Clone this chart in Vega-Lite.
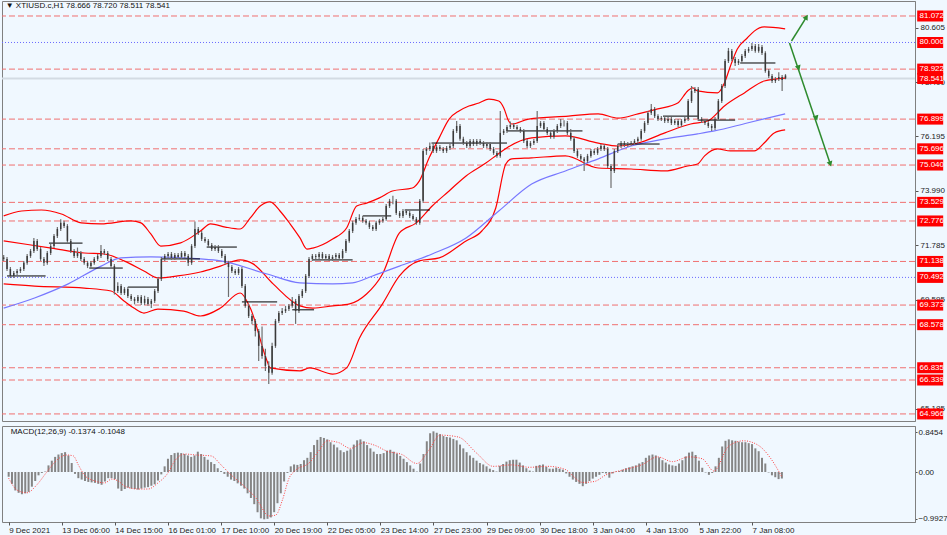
{
  "$schema": "https://vega.github.io/schema/vega-lite/v6.json",
  "background": "#f0f8ff",
  "padding": 0,
  "autosize": {"type": "pad"},
  "spacing": 3,
  "config": {
    "view": {"stroke": "#808080", "fill": "#f0f8ff"},
    "font": "Liberation Sans"
  },
  "datasets": {
    "bars": [
      {"i":0,"o":71.30,"h":71.40,"l":71.16,"c":71.24,"m":-0.10},
      {"i":2,"o":71.24,"h":71.32,"l":70.75,"c":70.83,"m":-0.25},
      {"i":4,"o":70.83,"h":70.91,"l":70.47,"c":70.55,"m":-0.39},
      {"i":6,"o":70.55,"h":70.75,"l":70.47,"c":70.67,"m":-0.44},
      {"i":8,"o":70.67,"h":70.83,"l":70.59,"c":70.75,"m":-0.47},
      {"i":10,"o":70.75,"h":70.91,"l":70.67,"c":70.83,"m":-0.45},
      {"i":12,"o":70.83,"h":71.16,"l":70.75,"c":71.08,"m":-0.42},
      {"i":14,"o":71.08,"h":71.44,"l":71.00,"c":71.36,"m":-0.31},
      {"i":16,"o":71.36,"h":71.64,"l":71.28,"c":71.56,"m":-0.19},
      {"i":18,"o":71.56,"h":72.09,"l":71.48,"c":71.97,"m":-0.07},
      {"i":20,"o":71.97,"h":72.05,"l":71.56,"c":71.64,"m":-0.02},
      {"i":22,"o":71.64,"h":71.72,"l":71.16,"c":71.24,"m":0.01},
      {"i":24,"o":71.24,"h":71.32,"l":70.95,"c":71.08,"m":0.14},
      {"i":26,"o":71.08,"h":71.56,"l":71.00,"c":71.48,"m":0.24},
      {"i":28,"o":71.48,"h":71.84,"l":71.40,"c":71.76,"m":0.32},
      {"i":30,"o":71.76,"h":72.25,"l":71.68,"c":72.17,"m":0.37},
      {"i":32,"o":72.17,"h":72.53,"l":72.09,"c":72.45,"m":0.40},
      {"i":34,"o":72.45,"h":72.85,"l":72.37,"c":72.70,"m":0.42},
      {"i":36,"o":72.70,"h":72.78,"l":72.49,"c":72.57,"m":0.35},
      {"i":38,"o":72.57,"h":72.65,"l":71.89,"c":71.97,"m":0.19},
      {"i":40,"o":71.97,"h":72.05,"l":71.48,"c":71.56,"m":-0.04},
      {"i":42,"o":71.56,"h":71.64,"l":71.28,"c":71.36,"m":-0.13},
      {"i":44,"o":71.36,"h":71.70,"l":71.28,"c":71.48,"m":-0.16},
      {"i":46,"o":71.48,"h":71.56,"l":71.16,"c":71.24,"m":-0.19},
      {"i":48,"o":71.24,"h":71.32,"l":71.00,"c":71.08,"m":-0.21},
      {"i":50,"o":71.08,"h":71.16,"l":70.87,"c":70.95,"m":-0.22},
      {"i":52,"o":70.95,"h":71.16,"l":70.87,"c":71.08,"m":-0.23},
      {"i":54,"o":71.08,"h":71.32,"l":71.00,"c":71.24,"m":-0.25},
      {"i":56,"o":71.24,"h":71.44,"l":71.16,"c":71.36,"m":-0.27},
      {"i":58,"o":71.36,"h":71.80,"l":71.28,"c":71.56,"m":-0.20},
      {"i":60,"o":71.56,"h":71.64,"l":71.40,"c":71.48,"m":-0.13},
      {"i":62,"o":71.48,"h":71.56,"l":71.16,"c":71.24,"m":-0.13},
      {"i":64,"o":71.24,"h":71.32,"l":70.87,"c":70.95,"m":-0.15},
      {"i":66,"o":70.95,"h":71.03,"l":69.80,"c":69.94,"m":-0.35},
      {"i":68,"o":69.94,"h":70.30,"l":69.86,"c":70.14,"m":-0.40},
      {"i":70,"o":70.14,"h":70.22,"l":69.78,"c":69.86,"m":-0.36},
      {"i":72,"o":69.86,"h":70.10,"l":69.78,"c":70.02,"m":-0.33},
      {"i":74,"o":70.02,"h":70.10,"l":69.66,"c":69.74,"m":-0.35},
      {"i":76,"o":69.74,"h":69.82,"l":69.54,"c":69.62,"m":-0.36},
      {"i":78,"o":69.62,"h":69.70,"l":69.40,"c":69.54,"m":-0.37},
      {"i":80,"o":69.54,"h":69.78,"l":69.46,"c":69.70,"m":-0.35},
      {"i":82,"o":69.70,"h":69.78,"l":69.38,"c":69.46,"m":-0.33},
      {"i":84,"o":69.46,"h":69.75,"l":69.38,"c":69.62,"m":-0.32},
      {"i":86,"o":69.62,"h":69.70,"l":69.34,"c":69.42,"m":-0.29},
      {"i":88,"o":69.42,"h":69.62,"l":69.25,"c":69.54,"m":-0.26},
      {"i":90,"o":69.54,"h":70.02,"l":69.46,"c":69.94,"m":-0.18},
      {"i":92,"o":69.94,"h":70.51,"l":69.86,"c":70.43,"m":-0.05},
      {"i":94,"o":70.43,"h":71.32,"l":70.35,"c":71.24,"m":0.12},
      {"i":96,"o":71.24,"h":71.44,"l":71.16,"c":71.36,"m":0.28},
      {"i":98,"o":71.36,"h":71.52,"l":71.28,"c":71.44,"m":0.36},
      {"i":100,"o":71.44,"h":71.52,"l":71.20,"c":71.28,"m":0.40},
      {"i":102,"o":71.28,"h":71.48,"l":71.20,"c":71.40,"m":0.41},
      {"i":104,"o":71.40,"h":71.48,"l":71.24,"c":71.32,"m":0.40},
      {"i":106,"o":71.32,"h":71.56,"l":71.24,"c":71.48,"m":0.38},
      {"i":108,"o":71.48,"h":71.56,"l":71.28,"c":71.36,"m":0.35},
      {"i":110,"o":71.36,"h":71.44,"l":70.95,"c":71.08,"m":0.32},
      {"i":112,"o":71.08,"h":71.84,"l":71.00,"c":71.76,"m":0.35},
      {"i":114,"o":71.76,"h":72.75,"l":71.68,"c":72.45,"m":0.43},
      {"i":116,"o":72.45,"h":72.53,"l":72.21,"c":72.29,"m":0.38},
      {"i":118,"o":72.29,"h":72.37,"l":71.97,"c":72.05,"m":0.32},
      {"i":120,"o":72.05,"h":72.13,"l":71.89,"c":71.97,"m":0.26},
      {"i":122,"o":71.97,"h":72.05,"l":71.72,"c":71.80,"m":0.21},
      {"i":124,"o":71.80,"h":71.88,"l":71.56,"c":71.64,"m":0.17},
      {"i":126,"o":71.64,"h":71.80,"l":71.56,"c":71.72,"m":0.08},
      {"i":128,"o":71.72,"h":71.80,"l":71.48,"c":71.56,"m":0.02},
      {"i":130,"o":71.56,"h":71.64,"l":71.28,"c":71.36,"m":-0.04},
      {"i":132,"o":71.36,"h":71.44,"l":71.00,"c":71.08,"m":-0.10},
      {"i":134,"o":71.08,"h":71.16,"l":69.70,"c":70.91,"m":-0.16},
      {"i":136,"o":70.91,"h":70.99,"l":70.67,"c":70.75,"m":-0.19},
      {"i":138,"o":70.75,"h":70.83,"l":70.59,"c":70.67,"m":-0.24},
      {"i":140,"o":70.67,"h":70.91,"l":70.59,"c":70.83,"m":-0.29},
      {"i":142,"o":70.83,"h":70.91,"l":70.06,"c":70.14,"m":-0.35},
      {"i":144,"o":70.14,"h":70.22,"l":69.26,"c":69.34,"m":-0.45},
      {"i":146,"o":69.34,"h":69.42,"l":68.85,"c":68.93,"m":-0.55},
      {"i":148,"o":68.93,"h":69.01,"l":68.60,"c":68.73,"m":-0.68},
      {"i":150,"o":68.73,"h":68.81,"l":68.10,"c":68.32,"m":-0.85},
      {"i":152,"o":68.32,"h":68.40,"l":67.11,"c":67.72,"m":-0.98},
      {"i":154,"o":67.72,"h":68.50,"l":67.20,"c":67.31,"m":-1.00},
      {"i":156,"o":67.31,"h":67.60,"l":66.70,"c":66.91,"m":-0.99},
      {"i":158,"o":66.91,"h":67.10,"l":66.18,"c":66.63,"m":-0.96},
      {"i":160,"o":66.63,"h":67.85,"l":66.55,"c":67.72,"m":-0.85},
      {"i":162,"o":67.72,"h":68.81,"l":67.64,"c":68.73,"m":-0.66},
      {"i":164,"o":68.73,"h":69.13,"l":68.65,"c":69.05,"m":-0.45},
      {"i":166,"o":69.05,"h":69.25,"l":68.97,"c":69.13,"m":-0.20},
      {"i":168,"o":69.13,"h":69.34,"l":69.05,"c":69.21,"m":-0.02},
      {"i":170,"o":69.21,"h":69.42,"l":69.13,"c":69.34,"m":0.12},
      {"i":172,"o":69.34,"h":69.70,"l":69.26,"c":69.54,"m":0.16},
      {"i":174,"o":69.54,"h":69.62,"l":68.61,"c":69.13,"m":0.15},
      {"i":176,"o":69.13,"h":69.82,"l":69.05,"c":69.74,"m":0.17},
      {"i":178,"o":69.74,"h":70.02,"l":69.66,"c":69.94,"m":0.25},
      {"i":180,"o":69.94,"h":70.63,"l":69.86,"c":70.55,"m":0.30},
      {"i":182,"o":70.55,"h":71.32,"l":70.47,"c":71.24,"m":0.42},
      {"i":184,"o":71.24,"h":71.44,"l":71.16,"c":71.36,"m":0.57},
      {"i":186,"o":71.36,"h":71.44,"l":71.24,"c":71.32,"m":0.68},
      {"i":188,"o":71.32,"h":71.52,"l":71.24,"c":71.44,"m":0.74},
      {"i":190,"o":71.44,"h":71.52,"l":71.20,"c":71.28,"m":0.72},
      {"i":192,"o":71.28,"h":71.44,"l":71.20,"c":71.36,"m":0.69},
      {"i":194,"o":71.36,"h":71.44,"l":71.16,"c":71.24,"m":0.63},
      {"i":196,"o":71.24,"h":71.40,"l":71.16,"c":71.32,"m":0.58},
      {"i":198,"o":71.32,"h":71.48,"l":71.24,"c":71.40,"m":0.52},
      {"i":200,"o":71.40,"h":71.48,"l":71.20,"c":71.28,"m":0.46},
      {"i":202,"o":71.28,"h":71.64,"l":71.20,"c":71.56,"m":0.42},
      {"i":204,"o":71.56,"h":72.05,"l":71.48,"c":71.97,"m":0.45},
      {"i":206,"o":71.97,"h":72.45,"l":71.89,"c":72.37,"m":0.48},
      {"i":208,"o":72.37,"h":72.78,"l":72.29,"c":72.70,"m":0.58},
      {"i":210,"o":72.70,"h":72.94,"l":72.62,"c":72.86,"m":0.67},
      {"i":212,"o":72.86,"h":73.05,"l":72.78,"c":72.90,"m":0.69},
      {"i":214,"o":72.90,"h":72.98,"l":72.70,"c":72.78,"m":0.65},
      {"i":216,"o":72.78,"h":72.86,"l":72.62,"c":72.70,"m":0.57},
      {"i":218,"o":72.70,"h":72.78,"l":72.45,"c":72.53,"m":0.50},
      {"i":220,"o":72.53,"h":72.61,"l":72.37,"c":72.45,"m":0.43},
      {"i":222,"o":72.45,"h":72.78,"l":72.37,"c":72.70,"m":0.38},
      {"i":224,"o":72.70,"h":72.86,"l":72.62,"c":72.78,"m":0.38},
      {"i":226,"o":72.78,"h":72.94,"l":72.70,"c":72.86,"m":0.40},
      {"i":228,"o":72.86,"h":73.46,"l":72.78,"c":73.38,"m":0.45},
      {"i":230,"o":73.38,"h":73.67,"l":73.30,"c":73.59,"m":0.47},
      {"i":232,"o":73.59,"h":73.80,"l":73.45,"c":73.59,"m":0.43},
      {"i":234,"o":73.59,"h":73.67,"l":73.02,"c":73.10,"m":0.39},
      {"i":236,"o":73.10,"h":73.18,"l":72.90,"c":72.98,"m":0.34},
      {"i":238,"o":72.98,"h":73.26,"l":72.90,"c":73.18,"m":0.28},
      {"i":240,"o":73.18,"h":73.26,"l":73.02,"c":73.10,"m":0.21},
      {"i":242,"o":73.10,"h":73.18,"l":72.90,"c":72.98,"m":0.14},
      {"i":244,"o":72.98,"h":73.06,"l":72.78,"c":72.86,"m":0.07},
      {"i":246,"o":72.86,"h":72.94,"l":72.62,"c":72.70,"m":0.01},
      {"i":248,"o":72.70,"h":73.67,"l":72.62,"c":73.59,"m":0.18},
      {"i":250,"o":73.59,"h":75.69,"l":73.51,"c":75.61,"m":0.38},
      {"i":252,"o":75.61,"h":75.77,"l":75.45,"c":75.69,"m":0.65},
      {"i":254,"o":75.69,"h":75.95,"l":75.61,"c":75.81,"m":0.82},
      {"i":256,"o":75.81,"h":75.89,"l":75.53,"c":75.61,"m":0.86},
      {"i":258,"o":75.61,"h":75.85,"l":75.53,"c":75.77,"m":0.83},
      {"i":260,"o":75.77,"h":75.85,"l":75.61,"c":75.69,"m":0.80},
      {"i":262,"o":75.69,"h":75.77,"l":75.53,"c":75.61,"m":0.76},
      {"i":264,"o":75.61,"h":75.81,"l":75.53,"c":75.73,"m":0.74},
      {"i":266,"o":75.73,"h":75.89,"l":75.65,"c":75.81,"m":0.73},
      {"i":268,"o":75.81,"h":76.50,"l":75.73,"c":76.42,"m":0.70},
      {"i":270,"o":76.42,"h":76.82,"l":76.34,"c":76.62,"m":0.67},
      {"i":272,"o":76.62,"h":76.70,"l":76.02,"c":76.10,"m":0.58},
      {"i":274,"o":76.10,"h":76.18,"l":75.85,"c":75.93,"m":0.50},
      {"i":276,"o":75.93,"h":76.01,"l":75.73,"c":75.81,"m":0.42},
      {"i":278,"o":75.81,"h":76.09,"l":75.73,"c":76.01,"m":0.35},
      {"i":280,"o":76.01,"h":76.09,"l":75.81,"c":75.89,"m":0.30},
      {"i":282,"o":75.89,"h":76.09,"l":75.81,"c":76.01,"m":0.24},
      {"i":284,"o":76.01,"h":76.09,"l":75.85,"c":75.93,"m":0.19},
      {"i":286,"o":75.93,"h":76.01,"l":75.73,"c":75.81,"m":0.16},
      {"i":288,"o":75.81,"h":75.97,"l":75.73,"c":75.89,"m":0.12},
      {"i":290,"o":75.89,"h":75.97,"l":75.61,"c":75.69,"m":0.07},
      {"i":292,"o":75.69,"h":75.77,"l":75.45,"c":75.53,"m":0.04},
      {"i":294,"o":75.53,"h":75.61,"l":75.33,"c":75.41,"m":0.01},
      {"i":296,"o":75.41,"h":77.23,"l":75.33,"c":76.34,"m":0.13},
      {"i":298,"o":76.34,"h":76.50,"l":76.26,"c":76.42,"m":0.17},
      {"i":300,"o":76.42,"h":76.66,"l":76.34,"c":76.58,"m":0.22},
      {"i":302,"o":76.58,"h":76.80,"l":76.50,"c":76.66,"m":0.25},
      {"i":304,"o":76.66,"h":76.74,"l":76.50,"c":76.58,"m":0.26},
      {"i":306,"o":76.58,"h":76.66,"l":76.42,"c":76.50,"m":0.26},
      {"i":308,"o":76.50,"h":76.58,"l":76.34,"c":76.42,"m":0.20},
      {"i":310,"o":76.42,"h":76.50,"l":75.93,"c":76.01,"m":0.14},
      {"i":312,"o":76.01,"h":76.09,"l":75.73,"c":75.81,"m":0.08},
      {"i":314,"o":75.81,"h":76.01,"l":75.73,"c":75.93,"m":0.03},
      {"i":316,"o":75.93,"h":76.09,"l":75.85,"c":76.01,"m":0.01},
      {"i":318,"o":76.01,"h":77.23,"l":75.93,"c":76.62,"m":0.13},
      {"i":320,"o":76.62,"h":76.82,"l":76.54,"c":76.74,"m":0.15},
      {"i":322,"o":76.74,"h":76.82,"l":76.42,"c":76.50,"m":0.16},
      {"i":324,"o":76.50,"h":76.58,"l":76.26,"c":76.34,"m":0.11},
      {"i":326,"o":76.34,"h":76.42,"l":76.10,"c":76.18,"m":0.07},
      {"i":328,"o":76.18,"h":76.50,"l":76.10,"c":76.42,"m":0.07},
      {"i":330,"o":76.42,"h":76.70,"l":76.34,"c":76.62,"m":0.09},
      {"i":332,"o":76.62,"h":76.90,"l":76.54,"c":76.74,"m":0.07},
      {"i":334,"o":76.74,"h":76.85,"l":76.60,"c":76.74,"m":0.05},
      {"i":336,"o":76.74,"h":76.82,"l":76.26,"c":76.34,"m":-0.03},
      {"i":338,"o":76.34,"h":76.50,"l":76.02,"c":76.10,"m":-0.10},
      {"i":340,"o":76.10,"h":76.18,"l":75.53,"c":75.61,"m":-0.16},
      {"i":342,"o":75.61,"h":75.69,"l":75.33,"c":75.41,"m":-0.21},
      {"i":344,"o":75.41,"h":75.49,"l":75.21,"c":75.29,"m":-0.25},
      {"i":346,"o":75.29,"h":75.37,"l":74.80,"c":75.20,"m":-0.30},
      {"i":348,"o":75.20,"h":75.49,"l":75.12,"c":75.41,"m":-0.25},
      {"i":350,"o":75.41,"h":75.69,"l":75.33,"c":75.61,"m":-0.19},
      {"i":352,"o":75.61,"h":75.69,"l":75.45,"c":75.53,"m":-0.14},
      {"i":354,"o":75.53,"h":75.77,"l":75.45,"c":75.69,"m":-0.10},
      {"i":356,"o":75.69,"h":75.89,"l":75.61,"c":75.81,"m":-0.06},
      {"i":358,"o":75.81,"h":75.89,"l":75.61,"c":75.69,"m":-0.02},
      {"i":360,"o":75.69,"h":75.77,"l":74.92,"c":75.00,"m":-0.03},
      {"i":362,"o":75.00,"h":75.08,"l":74.11,"c":74.80,"m":-0.12},
      {"i":364,"o":74.80,"h":75.69,"l":74.72,"c":75.61,"m":-0.03},
      {"i":366,"o":75.61,"h":75.89,"l":75.53,"c":75.81,"m":0.01},
      {"i":368,"o":75.81,"h":76.01,"l":75.73,"c":75.93,"m":0.02},
      {"i":370,"o":75.93,"h":76.01,"l":75.77,"c":75.85,"m":0.05},
      {"i":372,"o":75.85,"h":75.97,"l":75.77,"c":75.89,"m":0.08},
      {"i":374,"o":75.89,"h":76.01,"l":75.81,"c":75.93,"m":0.10},
      {"i":376,"o":75.93,"h":76.09,"l":75.85,"c":76.01,"m":0.12},
      {"i":378,"o":76.01,"h":76.18,"l":75.93,"c":76.10,"m":0.14},
      {"i":380,"o":76.10,"h":76.50,"l":76.02,"c":76.42,"m":0.18},
      {"i":382,"o":76.42,"h":76.82,"l":76.34,"c":76.74,"m":0.21},
      {"i":384,"o":76.74,"h":77.23,"l":76.66,"c":77.15,"m":0.30},
      {"i":386,"o":77.15,"h":77.51,"l":77.07,"c":77.31,"m":0.35},
      {"i":388,"o":77.31,"h":77.39,"l":76.94,"c":77.02,"m":0.37},
      {"i":390,"o":77.02,"h":77.10,"l":76.82,"c":76.90,"m":0.35},
      {"i":392,"o":76.90,"h":77.02,"l":76.82,"c":76.94,"m":0.31},
      {"i":394,"o":76.94,"h":77.02,"l":76.74,"c":76.82,"m":0.25},
      {"i":396,"o":76.82,"h":76.98,"l":76.74,"c":76.90,"m":0.20},
      {"i":398,"o":76.90,"h":76.98,"l":76.66,"c":76.74,"m":0.16},
      {"i":400,"o":76.74,"h":76.90,"l":76.66,"c":76.82,"m":0.14},
      {"i":402,"o":76.82,"h":76.90,"l":76.58,"c":76.66,"m":0.13},
      {"i":404,"o":76.66,"h":76.90,"l":76.58,"c":76.82,"m":0.18},
      {"i":406,"o":76.82,"h":76.98,"l":76.74,"c":76.90,"m":0.25},
      {"i":408,"o":76.90,"h":77.71,"l":76.82,"c":77.63,"m":0.33},
      {"i":410,"o":77.63,"h":78.24,"l":77.55,"c":78.04,"m":0.41},
      {"i":412,"o":78.04,"h":78.20,"l":77.96,"c":78.12,"m":0.43},
      {"i":414,"o":78.12,"h":78.20,"l":76.82,"c":76.90,"m":0.36},
      {"i":416,"o":76.90,"h":76.98,"l":76.74,"c":76.82,"m":0.24},
      {"i":418,"o":76.82,"h":76.90,"l":76.66,"c":76.74,"m":0.09},
      {"i":420,"o":76.74,"h":76.82,"l":76.54,"c":76.62,"m":-0.01},
      {"i":422,"o":76.62,"h":76.70,"l":76.42,"c":76.54,"m":-0.06},
      {"i":424,"o":76.54,"h":76.98,"l":76.46,"c":76.90,"m":-0.02},
      {"i":426,"o":76.90,"h":77.71,"l":76.82,"c":77.63,"m":0.12},
      {"i":428,"o":77.63,"h":78.32,"l":77.55,"c":78.24,"m":0.30},
      {"i":430,"o":78.24,"h":79.33,"l":78.16,"c":79.25,"m":0.54},
      {"i":432,"o":79.25,"h":79.78,"l":79.17,"c":79.66,"m":0.66},
      {"i":434,"o":79.66,"h":79.74,"l":79.25,"c":79.33,"m":0.69},
      {"i":436,"o":79.33,"h":79.41,"l":79.05,"c":79.17,"m":0.67},
      {"i":438,"o":79.17,"h":79.33,"l":79.09,"c":79.25,"m":0.66},
      {"i":440,"o":79.25,"h":79.53,"l":79.17,"c":79.45,"m":0.64},
      {"i":442,"o":79.45,"h":79.74,"l":79.37,"c":79.66,"m":0.63},
      {"i":444,"o":79.66,"h":79.82,"l":79.58,"c":79.74,"m":0.63},
      {"i":446,"o":79.74,"h":79.98,"l":79.66,"c":79.86,"m":0.61},
      {"i":448,"o":79.86,"h":79.94,"l":79.58,"c":79.66,"m":0.59},
      {"i":450,"o":79.66,"h":79.94,"l":79.58,"c":79.82,"m":0.50},
      {"i":452,"o":79.82,"h":79.90,"l":79.49,"c":79.57,"m":0.44},
      {"i":454,"o":79.57,"h":79.65,"l":78.77,"c":78.85,"m":0.30},
      {"i":456,"o":78.85,"h":78.93,"l":78.56,"c":78.64,"m":0.18},
      {"i":458,"o":78.64,"h":78.72,"l":78.36,"c":78.44,"m":-0.01},
      {"i":460,"o":78.44,"h":78.60,"l":78.36,"c":78.52,"m":-0.07},
      {"i":462,"o":78.52,"h":78.80,"l":78.44,"c":78.60,"m":-0.11},
      {"i":464,"o":78.60,"h":78.68,"l":78.04,"c":78.48,"m":-0.15},
      {"i":466,"o":78.666,"h":78.72,"l":78.511,"c":78.541,"m":-0.1374}
    ],
    "bands": [
      {"s":"u","i":0,"p":72.98},{"s":"u","i":10.7,"p":73.18},{"s":"u","i":22.5,"p":73.22},{"s":"u","i":34.4,"p":73.06},
      {"s":"u","i":46.2,"p":72.70},{"s":"u","i":58.1,"p":72.66},{"s":"u","i":75.9,"p":72.78},{"s":"u","i":81.8,"p":72.70},
      {"s":"u","i":87.7,"p":72.25},{"s":"u","i":93.6,"p":71.76},{"s":"u","i":105.5,"p":71.89},{"s":"u","i":117.3,"p":72.37},
      {"s":"u","i":123.3,"p":72.66},{"s":"u","i":132.1,"p":72.53},{"s":"u","i":141,"p":72.45},{"s":"u","i":147,"p":72.90},
      {"s":"u","i":152.9,"p":73.38},{"s":"u","i":158.8,"p":73.55},{"s":"u","i":164.7,"p":73.18},{"s":"u","i":170.7,"p":72.66},
      {"s":"u","i":176.6,"p":72.09},{"s":"u","i":180.7,"p":71.64},{"s":"u","i":184.3,"p":71.68},{"s":"u","i":196.1,"p":72.05},
      {"s":"u","i":204.4,"p":72.49},{"s":"u","i":210.4,"p":73.38},{"s":"u","i":216.3,"p":73.50},{"s":"u","i":224,"p":73.71},
      {"s":"u","i":231.7,"p":73.99},{"s":"u","i":243.6,"p":74.11},{"s":"u","i":247.7,"p":74.39},{"s":"u","i":253.6,"p":75.33},
      {"s":"u","i":259.6,"p":76.14},{"s":"u","i":265.5,"p":76.90},{"s":"u","i":271.4,"p":77.23},{"s":"u","i":277.3,"p":77.43},
      {"s":"u","i":283.3,"p":77.55},{"s":"u","i":289.2,"p":77.71},{"s":"u","i":295.1,"p":77.63},{"s":"u","i":298.1,"p":77.35},
      {"s":"u","i":301,"p":76.82},{"s":"u","i":302.8,"p":76.70},{"s":"u","i":312.9,"p":76.90},{"s":"u","i":336.6,"p":77.02},
      {"s":"u","i":354.4,"p":77.11},{"s":"u","i":366.2,"p":76.94},{"s":"u","i":378.1,"p":77.11},{"s":"u","i":389.9,"p":77.31},
      {"s":"u","i":401.8,"p":77.55},{"s":"u","i":407.7,"p":78.04},{"s":"u","i":410.7,"p":78.16},{"s":"u","i":413.6,"p":78.04},
      {"s":"u","i":425.5,"p":77.96},{"s":"u","i":429.6,"p":78.36},{"s":"u","i":433.2,"p":79.05},{"s":"u","i":437.3,"p":79.74},
      {"s":"u","i":443.2,"p":80.18},{"s":"u","i":447.4,"p":80.46},{"s":"u","i":453.3,"p":80.63},{"s":"u","i":465.8,"p":80.55},
      {"s":"m","i":0,"p":71.97},{"s":"m","i":28.4,"p":71.68},{"s":"m","i":48,"p":71.48},{"s":"m","i":59.9,"p":71.44},
      {"s":"m","i":71.7,"p":71.16},{"s":"m","i":83.6,"p":70.75},{"s":"m","i":91.9,"p":70.47},{"s":"m","i":103.7,"p":70.55},
      {"s":"m","i":117.3,"p":70.71},{"s":"m","i":129.2,"p":70.95},{"s":"m","i":141,"p":71.20},{"s":"m","i":148.7,"p":71.04},
      {"s":"m","i":160.6,"p":70.23},{"s":"m","i":176.6,"p":69.34},{"s":"m","i":184.3,"p":69.25},{"s":"m","i":196.1,"p":69.34},
      {"s":"m","i":206.2,"p":69.42},{"s":"m","i":216.3,"p":69.82},{"s":"m","i":225.8,"p":70.63},{"s":"m","i":235.9,"p":72.29},
      {"s":"m","i":245.9,"p":72.70},{"s":"m","i":255.4,"p":73.38},{"s":"m","i":265.5,"p":73.99},{"s":"m","i":275.6,"p":74.60},
      {"s":"m","i":287.4,"p":75.12},{"s":"m","i":294.8,"p":75.49},{"s":"m","i":300.7,"p":75.77},{"s":"m","i":314.7,"p":76.14},
      {"s":"m","i":334.8,"p":76.22},{"s":"m","i":354.4,"p":75.93},{"s":"m","i":366.2,"p":75.81},{"s":"m","i":378.1,"p":75.93},
      {"s":"m","i":394.1,"p":76.34},{"s":"m","i":409.5,"p":76.70},{"s":"m","i":419.6,"p":76.82},{"s":"m","i":429.6,"p":77.43},
      {"s":"m","i":441.5,"p":77.96},{"s":"m","i":453.3,"p":78.44},{"s":"m","i":465.8,"p":78.56},
      {"s":"l","i":0,"p":70.23},{"s":"l","i":18.4,"p":70.14},{"s":"l","i":48,"p":70.06},{"s":"l","i":64,"p":69.94},
      {"s":"l","i":71.7,"p":69.54},{"s":"l","i":77.6,"p":69.25},{"s":"l","i":83.6,"p":69.05},{"s":"l","i":91.9,"p":69.21},
      {"s":"l","i":107.3,"p":69.13},{"s":"l","i":117.3,"p":68.93},{"s":"l","i":129.2,"p":69.25},{"s":"l","i":141,"p":69.86},
      {"s":"l","i":147,"p":69.25},{"s":"l","i":157,"p":67.11},{"s":"l","i":158.8,"p":66.83},{"s":"l","i":176.6,"p":66.71},
      {"s":"l","i":182.5,"p":66.83},{"s":"l","i":196.1,"p":66.58},{"s":"l","i":204.4,"p":66.83},{"s":"l","i":212.1,"p":68.04},
      {"s":"l","i":225.8,"p":69.42},{"s":"l","i":235.9,"p":70.55},{"s":"l","i":247.7,"p":71.16},{"s":"l","i":259.6,"p":71.28},
      {"s":"l","i":275.6,"p":71.97},{"s":"l","i":285,"p":72.37},{"s":"l","i":293.3,"p":73.30},{"s":"l","i":299.3,"p":75.08},
      {"s":"l","i":302.8,"p":75.29},{"s":"l","i":314.7,"p":75.33},{"s":"l","i":334.8,"p":75.41},{"s":"l","i":354.4,"p":74.92},
      {"s":"l","i":374,"p":74.88},{"s":"l","i":394.1,"p":74.80},{"s":"l","i":407.7,"p":75.00},{"s":"l","i":413.6,"p":75.08},
      {"s":"l","i":417.8,"p":75.41},{"s":"l","i":425.5,"p":75.69},{"s":"l","i":433.2,"p":75.61},{"s":"l","i":447.4,"p":75.61},
      {"s":"l","i":453.3,"p":75.93},{"s":"l","i":459.3,"p":76.34},{"s":"l","i":465.8,"p":76.46},
      {"s":"a","i":0,"p":69.25},{"s":"a","i":18.4,"p":69.66},{"s":"a","i":38.5,"p":70.23},{"s":"a","i":58.1,"p":70.95},
      {"s":"a","i":69.9,"p":71.28},{"s":"a","i":87.7,"p":71.32},{"s":"a","i":117.3,"p":71.24},{"s":"a","i":129.2,"p":71.16},
      {"s":"a","i":157,"p":70.63},{"s":"a","i":176.6,"p":70.27},{"s":"a","i":196.1,"p":70.23},{"s":"a","i":208,"p":70.27},
      {"s":"a","i":219.9,"p":70.55},{"s":"a","i":235.9,"p":70.95},{"s":"a","i":255.4,"p":71.44},{"s":"a","i":275.6,"p":72.09},
      {"s":"a","i":295.1,"p":73.18},{"s":"a","i":314.7,"p":74.27},{"s":"a","i":334.8,"p":74.80},{"s":"a","i":354.4,"p":75.29},
      {"s":"a","i":374,"p":75.81},{"s":"a","i":394.1,"p":76.10},{"s":"a","i":413.6,"p":76.30},{"s":"a","i":423.7,"p":76.42},
      {"s":"a","i":443.2,"p":76.74},{"s":"a","i":465.8,"p":77.11}
    ],
    "levels": [
      {"p":81.072,"k":"r"},{"p":78.922,"k":"r"},{"p":76.899,"k":"r"},{"p":75.696,"k":"r"},
      {"p":75.040,"k":"r"},{"p":73.529,"k":"r"},{"p":72.776,"k":"r"},{"p":71.138,"k":"r"},
      {"p":69.373,"k":"r"},{"p":68.578,"k":"r"},{"p":66.835,"k":"r"},{"p":66.339,"k":"r"},
      {"p":64.966,"k":"r"},{"p":80.000,"k":"b"},{"p":70.492,"k":"b"},{"p":78.541,"k":"c"}
    ],
    "seg": [
      {"a":2,"b":25,"p":70.55},{"a":27,"b":47,"p":71.88},{"a":51,"b":71,"p":70.87},{"a":74,"b":92,"p":70.10},
      {"a":94,"b":117,"p":71.24},{"a":121,"b":139,"p":71.72},{"a":142,"b":163,"p":69.50},{"a":172,"b":185,"p":69.18},
      {"a":184,"b":208,"p":71.20},{"a":214,"b":231,"p":72.98},{"a":239,"b":254,"p":73.22},{"a":255,"b":300,"p":75.93},
      {"a":300,"b":345,"p":76.42},{"a":366,"b":391,"p":75.89},{"a":393,"b":414,"p":77.02},{"a":414,"b":436,"p":76.86},
      {"a":439,"b":460,"p":79.17}
    ],
    "sig": [
      {"i":0,"v":-0.13},{"i":5,"v":-0.38},{"i":11,"v":-0.44},{"i":17,"v":-0.27},{"i":23,"v":0.0},{"i":29,"v":0.25},
      {"i":35,"v":0.36},{"i":39,"v":0.34},{"i":42,"v":0.15},{"i":46,"v":-0.08},{"i":52,"v":-0.19},{"i":58,"v":-0.23},
      {"i":62,"v":-0.15},{"i":66,"v":-0.19},{"i":70,"v":-0.30},{"i":78,"v":-0.36},{"i":84,"v":-0.36},{"i":90,"v":-0.23},
      {"i":96,"v":-0.02},{"i":100,"v":0.23},{"i":106,"v":0.38},{"i":113,"v":0.36},{"i":122,"v":0.34},{"i":128,"v":0.15},
      {"i":134,"v":-0.06},{"i":141,"v":-0.27},{"i":149,"v":-0.55},{"i":157,"v":-0.93},{"i":161,"v":-0.91},{"i":165,"v":-0.59},
      {"i":169,"v":-0.13},{"i":173,"v":0.04},{"i":181,"v":0.19},{"i":187,"v":0.45},{"i":192,"v":0.66},{"i":199,"v":0.62},
      {"i":206,"v":0.50},{"i":214,"v":0.62},{"i":221,"v":0.56},{"i":228,"v":0.44},{"i":237,"v":0.37},{"i":246,"v":0.18},
      {"i":253,"v":0.45},{"i":260,"v":0.78},{"i":271,"v":0.74},{"i":282,"v":0.40},{"i":292,"v":0.12},{"i":303,"v":0.15},
      {"i":314,"v":0.10},{"i":325,"v":0.12},{"i":335,"v":0.06},{"i":346,"v":-0.22},{"i":353,"v":-0.20},{"i":360,"v":-0.06},
      {"i":371,"v":0.05},{"i":382,"v":0.16},{"i":391,"v":0.32},{"i":400,"v":0.22},{"i":410,"v":0.32},{"i":418,"v":0.28},
      {"i":425,"v":0.02},{"i":434,"v":0.55},{"i":443,"v":0.66},{"i":452,"v":0.56},{"i":459,"v":0.30},{"i":466,"v":-0.1048}
    ],
    "arr": [
      {"g":"u","i":469.6,"p":80.06},{"g":"u","i":478.5,"p":81.03},
      {"g":"d","i":468.4,"p":79.98},{"g":"d","i":492.7,"p":75.08}
    ],
    "heads": [
      {"g":"u","i":478.5,"p":81.03},{"g":"d","i":473.8,"p":78.97},
      {"g":"d","i":484.4,"p":76.94},{"g":"d","i":492.7,"p":75.08}
    ]
  },
  "vconcat": [
    {
      "width": 913,
      "height": 420,
      "layer": [
        {
          "data": {"name": "levels"},
          "transform": [{"filter": "datum.k == 'r'"}],
          "mark": {"type": "rule", "color": "#f07070", "strokeDash": [6, 3], "strokeWidth": 1},
          "encoding": {
            "y": {
              "field": "p", "type": "quantitative",
              "scale": {"domain": [64.68, 81.679], "nice": false, "zero": false},
              "axis": {
                "orient": "right", "title": null, "grid": false,
                "values": [80.605, 79.495, 78.4, 77.29, 76.195, 75.085, 73.99, 72.895, 71.785, 70.69, 69.595, 67.39, 65.185],
                "format": ".3f", "labelFont": "Liberation Sans", "labelFontSize": 8, "labelColor": "#222222",
                "tickSize": 3, "tickColor": "#555555", "labelPadding": 2, "domainColor": "#808080"
              }
            }
          }
        },
        {
          "data": {"name": "levels"},
          "transform": [{"filter": "datum.k == 'b'"}],
          "mark": {"type": "rule", "color": "#6a6aff", "strokeDash": [1, 2], "strokeWidth": 1},
          "encoding": {
            "y": {"field": "p", "type": "quantitative", "title": null, "scale": {"domain": [64.68, 81.679], "nice": false, "zero": false}}
          }
        },
        {
          "data": {"name": "levels"},
          "transform": [{"filter": "datum.k == 'c'"}],
          "mark": {"type": "rule", "color": "#d3dbe3", "strokeWidth": 2},
          "encoding": {
            "y": {"field": "p", "type": "quantitative", "title": null, "scale": {"domain": [64.68, 81.679], "nice": false, "zero": false}}
          }
        },
        {
          "data": {"name": "bands"},
          "mark": {"type": "line", "strokeWidth": 1.2, "interpolate": "monotone"},
          "encoding": {
            "x": {"field": "i", "type": "quantitative", "scale": {"domain": [-1, 543.2], "nice": false, "zero": false}, "axis": null},
            "y": {"field": "p", "type": "quantitative", "title": null, "scale": {"domain": [64.68, 81.679], "nice": false, "zero": false}},
            "color": {
              "field": "s", "type": "nominal",
              "scale": {"domain": ["u", "m", "l", "a"], "range": ["#ff0000", "#ff0000", "#ff0000", "#7777ff"]},
              "legend": null
            }
          }
        },
        {
          "data": {"name": "seg"},
          "mark": {"type": "rule", "color": "#000000", "strokeWidth": 1},
          "encoding": {
            "x": {"field": "a", "type": "quantitative", "scale": {"domain": [-1, 543.2], "nice": false, "zero": false}, "axis": null},
            "x2": {"field": "b"},
            "y": {"field": "p", "type": "quantitative", "title": null, "scale": {"domain": [64.68, 81.679], "nice": false, "zero": false}}
          }
        },
        {
          "data": {"name": "bars"},
          "mark": {"type": "rule", "color": "#6e6e6e", "strokeWidth": 1.2},
          "encoding": {
            "x": {"field": "i", "type": "quantitative", "scale": {"domain": [-1, 543.2], "nice": false, "zero": false}, "axis": null},
            "y": {"field": "l", "type": "quantitative", "title": null, "scale": {"domain": [64.68, 81.679], "nice": false, "zero": false}},
            "y2": {"field": "h"}
          }
        },
        {
          "data": {"name": "bars"},
          "mark": {"type": "rule", "color": "#3a3a3a", "strokeWidth": 1.5},
          "encoding": {
            "x": {"field": "i", "type": "quantitative", "scale": {"domain": [-1, 543.2], "nice": false, "zero": false}, "axis": null},
            "y": {"field": "o", "type": "quantitative", "title": null, "scale": {"domain": [64.68, 81.679], "nice": false, "zero": false}},
            "y2": {"field": "c"}
          }
        },
        {
          "data": {"name": "arr"},
          "mark": {"type": "line", "color": "#2e8b2e", "strokeWidth": 1.5},
          "encoding": {
            "x": {"field": "i", "type": "quantitative", "scale": {"domain": [-1, 543.2], "nice": false, "zero": false}, "axis": null},
            "y": {"field": "p", "type": "quantitative", "title": null, "scale": {"domain": [64.68, 81.679], "nice": false, "zero": false}},
            "detail": {"field": "g"}
          }
        },
        {
          "data": {"name": "heads"},
          "mark": {"type": "point", "shape": "triangle-up", "filled": true, "color": "#2e8b2e", "size": 36, "opacity": 1},
          "encoding": {
            "x": {"field": "i", "type": "quantitative", "scale": {"domain": [-1, 543.2], "nice": false, "zero": false}, "axis": null},
            "y": {"field": "p", "type": "quantitative", "title": null, "scale": {"domain": [64.68, 81.679], "nice": false, "zero": false}},
            "angle": {"condition": {"test": "datum.g == 'u'", "value": 32}, "value": 161}
          }
        },
        {
          "data": {"name": "levels"},
          "mark": {"type": "rect", "yOffset": -5.5, "y2Offset": 5.5},
          "encoding": {
            "x": {"datum": 544.5, "type": "quantitative", "scale": {"domain": [-1, 543.2], "nice": false, "zero": false}, "axis": null},
            "x2": {"datum": 560},
            "y": {"field": "p", "type": "quantitative", "title": null, "scale": {"domain": [64.68, 81.679], "nice": false, "zero": false}},
            "y2": {"field": "p"},
            "color": {
              "field": "k", "type": "nominal",
              "scale": {"domain": ["r", "b", "c"], "range": ["#ff0000", "#0000ff", "#000000"]},
              "legend": null
            }
          }
        },
        {
          "data": {"name": "levels"},
          "mark": {"type": "text", "color": "#ffffff", "font": "Liberation Sans", "fontSize": 8, "align": "left", "baseline": "middle", "dx": 1.5},
          "encoding": {
            "x": {"datum": 545, "type": "quantitative", "scale": {"domain": [-1, 543.2], "nice": false, "zero": false}, "axis": null},
            "y": {"field": "p", "type": "quantitative", "title": null, "scale": {"domain": [64.68, 81.679], "nice": false, "zero": false}},
            "text": {"field": "p", "type": "quantitative", "format": ".3f"}
          }
        },
        {
          "data": {"values": [{"t": "▼ XTIUSD.c,H1  78.666 78.720 78.511 78.541"}]},
          "mark": {"type": "text", "color": "#111111", "font": "Liberation Sans", "fontSize": 8, "align": "left", "baseline": "middle", "dx": 2},
          "encoding": {
            "x": {"datum": 0, "type": "quantitative", "scale": {"domain": [-1, 543.2], "nice": false, "zero": false}, "axis": null},
            "y": {"datum": 81.47, "type": "quantitative", "scale": {"domain": [64.68, 81.679], "nice": false, "zero": false}},
            "text": {"field": "t"}
          }
        }
      ]
    },
    {
      "width": 913,
      "height": 96,
      "layer": [
        {
          "data": {"name": "bars"},
          "mark": {"type": "bar", "color": "#858585", "width": 2},
          "encoding": {
            "x": {
              "field": "i", "type": "quantitative",
              "scale": {"domain": [-1, 543.2], "nice": false, "zero": false},
              "axis": {
                "title": null, "grid": false, "domain": false,
                "values": [0, 32, 64, 96, 128, 160, 192, 224, 256, 288, 320, 352, 384, 416, 448],
                "labelExpr": "['9 Dec 2021','13 Dec 06:00','14 Dec 15:00','16 Dec 01:00','17 Dec 10:00','20 Dec 19:00','22 Dec 05:00','23 Dec 14:00','27 Dec 23:00','29 Dec 09:00','30 Dec 18:00','3 Jan 04:00','4 Jan 13:00','5 Jan 22:00','7 Jan 08:00'][round(datum.value / 32)]",
                "labelAlign": "left", "labelFont": "Liberation Sans", "labelFontSize": 8, "labelColor": "#222222",
                "labelPadding": 1, "tickSize": 3, "tickColor": "#555555",
                "labelOverlap": false, "labelFlush": false, "labelBound": false
              }
            },
            "y": {
              "field": "m", "type": "quantitative",
              "scale": {"domain": [-1.057, 0.973], "nice": false, "zero": false},
              "axis": {
                "orient": "right", "title": null, "grid": false,
                "values": [0.8454, 0, -0.9927],
                "labelExpr": "datum.value == 0 ? '0.00' : format(datum.value, '.4f')",
                "labelFont": "Liberation Sans", "labelFontSize": 8, "labelColor": "#222222",
                "tickSize": 2, "tickColor": "#555555", "labelPadding": 1, "domainColor": "#808080"
              }
            },
            "y2": {"datum": 0}
          }
        },
        {
          "data": {"name": "sig"},
          "mark": {"type": "line", "color": "#ff4040", "strokeWidth": 1, "strokeDash": [1, 1.5], "interpolate": "monotone"},
          "encoding": {
            "x": {"field": "i", "type": "quantitative", "title": null, "scale": {"domain": [-1, 543.2], "nice": false, "zero": false}},
            "y": {"field": "v", "type": "quantitative", "title": null, "scale": {"domain": [-1.057, 0.973], "nice": false, "zero": false}}
          }
        },
        {
          "data": {"values": [{"t": "MACD(12,26,9) -0.1374 -0.1048"}]},
          "mark": {"type": "text", "color": "#111111", "font": "Liberation Sans", "fontSize": 8, "align": "left", "baseline": "middle", "dx": 2},
          "encoding": {
            "x": {"datum": 0, "type": "quantitative", "scale": {"domain": [-1, 543.2], "nice": false, "zero": false}},
            "y": {"datum": 0.85, "type": "quantitative", "scale": {"domain": [-1.057, 0.973], "nice": false, "zero": false}},
            "text": {"field": "t"}
          }
        }
      ]
    }
  ]
}
